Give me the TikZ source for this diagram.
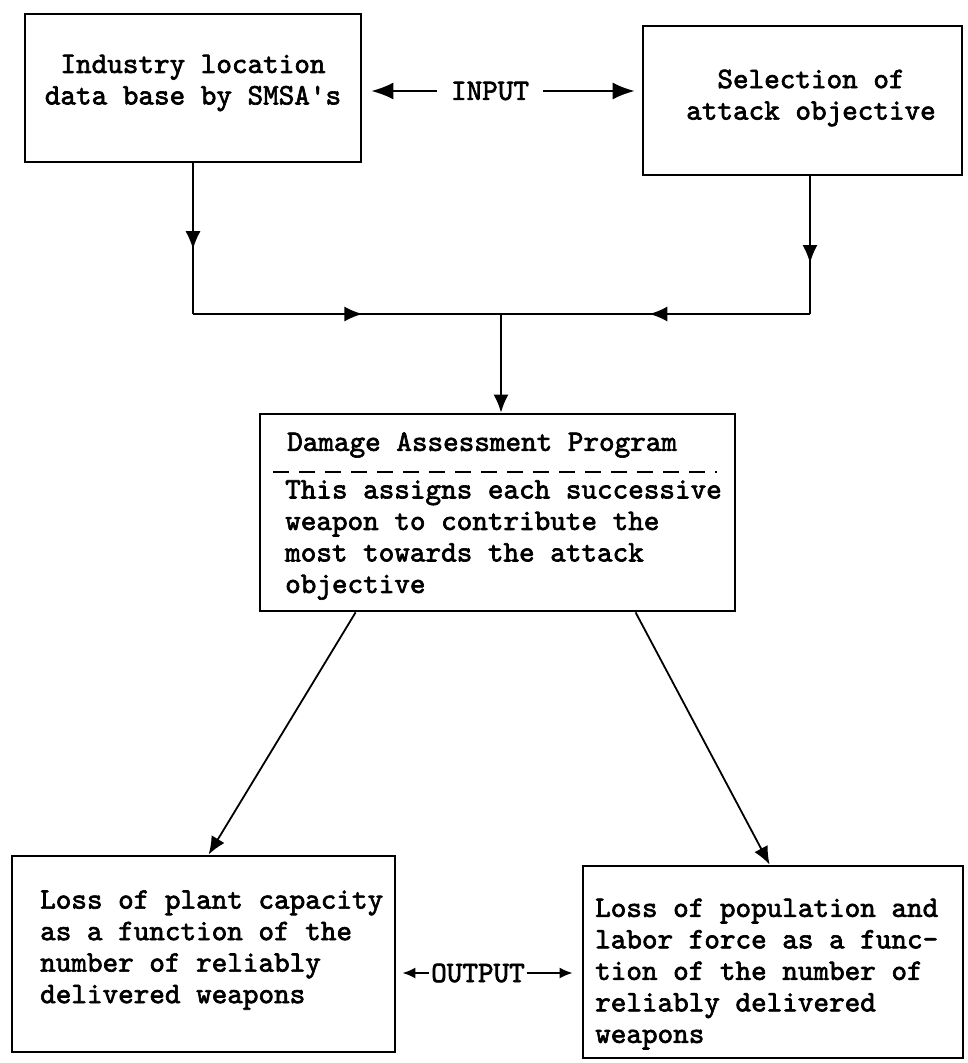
\documentclass[tikz,border=0pt]{standalone}
\usepackage{fontspec}
\newfontfamily\twfont{lmmono10-regular.otf}[FakeBold=2.2]
\usetikzlibrary{arrows.meta,decorations.markings}
\begin{document}
\begin{tikzpicture}[x=1pt,y=-1pt,
  box/.style={draw, line width=2.8pt, inner sep=0pt},
  txt/.style={font=\twfont\fontsize{29.7}{31.5}\selectfont, inner sep=0pt},
  conn/.style={line width=1.8pt},
  tipa/.style={-{Latex[length=18pt,width=15pt]}},
  tipin/.style={-{Latex[length=22pt,width=17pt]}},
  tipout/.style={-{Latex[length=13pt,width=11pt]}},
  midarrow/.style={postaction={decorate},decoration={markings,mark=at position #1 with {\arrow{Latex[length=18pt,width=15pt]}}}}
]
\useasboundingbox[fill=white] (0,0) rectangle (967,1063);

% boxes
\node[box, minimum width=336pt, minimum height=148pt] (b1) at (193,88) {};
\node[box, minimum width=319pt, minimum height=149pt] (b2) at (802.5,100.5) {};
\node[box, minimum width=475pt, minimum height=197pt] (b3) at (497.5,512.5) {};
\node[box, minimum width=383pt, minimum height=196pt] (b4) at (203.5,954) {};
\node[box, minimum width=380pt, minimum height=192pt] (b5) at (773,962) {};

% texts
\node[txt, align=center] (t1) at (193,83) {Industry location\\data base by SMSA's};
\node[txt, align=center] (t2) at (811,98) {Selection of\\attack objective};
\node[txt, anchor=west] (t3) at (287,445) {Damage Assessment Program};
\node[txt, anchor=west, align=left] (t3b) at (285,540) {This assigns each successive\\weapon to contribute the\\most towards the attack\\objective};
\node[txt, anchor=west, align=left] (t4) at (40,950) {Loss of plant capacity\\as a function of the\\number of reliably\\delivered weapons};
\node[txt, anchor=west, align=left] (t5) at (595,974) {Loss of population and\\labor force as a func-\\tion of the number of\\reliably delivered\\weapons};

% dashed divider
\coordinate (d1) at (273,472);
\coordinate (d2) at (717,472);
\draw[line width=1.8pt, dash pattern=on 16pt off 10pt] (d1) -- (d2);

% INPUT
\node[txt, inner xsep=14pt] (input) at (490,91) {INPUT};
\draw[conn, tipin, shorten >=9pt] (input.west) -- (input.west -| b1.east);
\draw[conn, tipin, shorten >=7pt] (input.east) -- (input.east -| b2.west);

% OUTPUT
\node[txt, inner xsep=2pt] (output) at (478,973) {OUTPUT};
\draw[conn, tipout, shorten >=6pt] (output.west) -- (output.west -| b4.east);
\draw[conn, tipout, shorten >=9pt] (output.east) -- (output.east -| b5.west);

% collector
\coordinate (j) at (501,314);
\coordinate (cr) at (810,314);
\draw[conn, midarrow=0.57] (b1.south) -- (b1.south |- j);
\draw[conn, midarrow=0.55] (b1.south |- j) -- (j);
\draw[conn, midarrow=0.63] (b2.south -| cr) -- (cr);
\draw[conn, midarrow=0.52] (cr) -- (j);
\draw[conn, tipa] (j) -- (b3.north -| j);

% outputs of program
\draw[conn, tipa] ([xshift=97pt]b3.south west) -- ([xshift=198pt]b4.north west);
\draw[conn, tipa] ([xshift=377pt]b3.south west) -- ([xshift=188pt]b5.north west);
\end{tikzpicture}
\end{document}
